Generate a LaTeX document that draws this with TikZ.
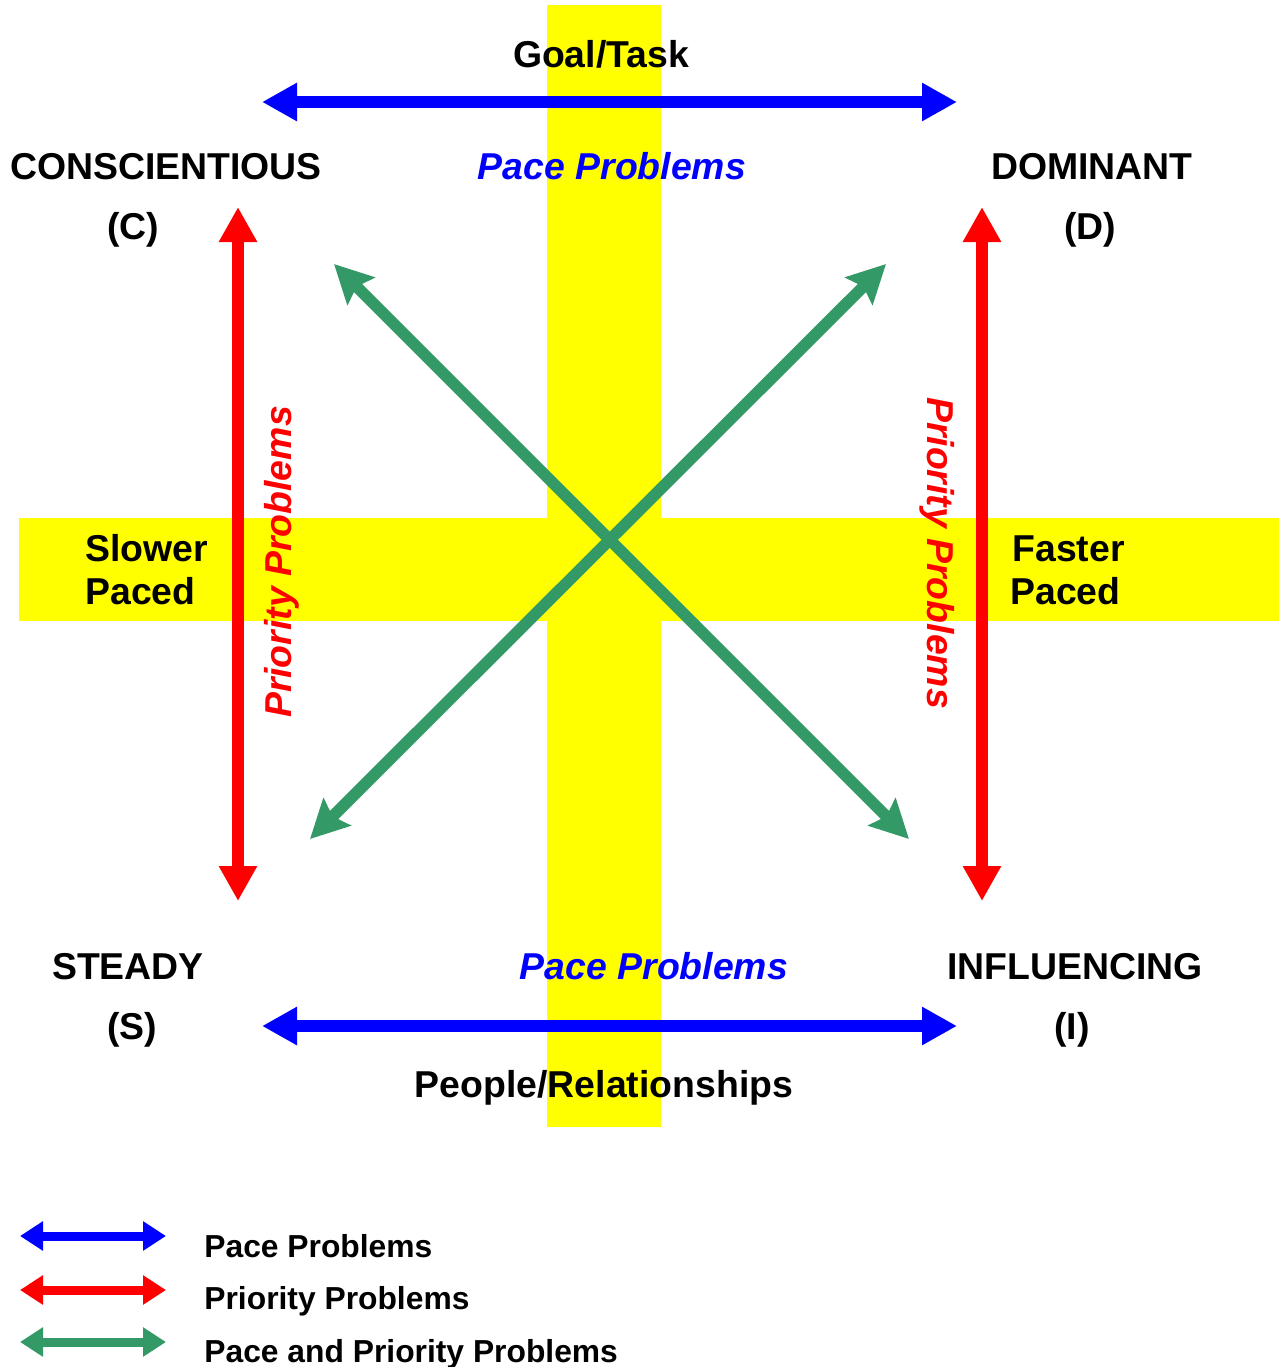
\documentclass[tikz,border=0pt]{standalone}
\usepackage{fontspec}
\setmainfont{Liberation Sans}
\usetikzlibrary{arrows.meta}
\definecolor{pblue}{RGB}{0,0,255}
\definecolor{pred}{RGB}{255,0,0}
\definecolor{pgreen}{RGB}{51,153,102}
\definecolor{pyellow}{RGB}{255,255,0}
\tikzset{
  band/.style={fill=pyellow},
  bigtxt/.style={font=\fontsize{18.7}{22}\selectfont\bfseries, inner sep=0pt, anchor=base},
  itxt/.style={font=\fontsize{18.7}{22}\selectfont\bfseries\itshape, inner sep=0pt, anchor=base},
  legtxt/.style={font=\fontsize{15.9}{18}\selectfont\bfseries, inner sep=0pt, anchor=base west},
  mainarrow/.style={line width=5.8pt, {Triangle[length=17.5pt,width=18pt]}-{Triangle[length=17.5pt,width=18pt]}},
  diagarrow/.style={line width=5.8pt, draw=pgreen, {Stealth[length=19pt,width=19pt,inset=3pt]}-{Stealth[length=19pt,width=19pt,inset=3pt]}},
  legarrow/.style={line width=4.5pt, {Triangle[length=11.5pt,width=14pt]}-{Triangle[length=11.5pt,width=14pt]}}
}
\begin{document}
\begin{tikzpicture}[x=0.5pt,y=-0.5pt]
\useasboundingbox (0,0) rectangle (1280,1367);
% yellow bands
\fill[band] (547,5) rectangle (661,1127);
\fill[band] (19,518) rectangle (1279,621);

% coordinates
\coordinate (tl) at (262,102);
\coordinate (tr) at (957,102);
\coordinate (bl) at (262,1026);
\coordinate (br) at (957,1026);
\coordinate (lt) at (238,207);
\coordinate (lb) at (238,901);
\coordinate (rt) at (982,207);
\coordinate (rb) at (982,901);
\coordinate (g1a) at (334,264);
\coordinate (g1b) at (909,839);
\coordinate (g2a) at (886,264);
\coordinate (g2b) at (310,839);

% main arrows
\draw[mainarrow, draw=pblue, fill=pblue] (tl) -- (tr);
\draw[mainarrow, draw=pblue, fill=pblue] (bl) -- (br);
\draw[mainarrow, draw=pred, fill=pred] (lt) -- (lb);
\draw[mainarrow, draw=pred, fill=pred] (rt) -- (rb);
\draw[diagarrow, fill=pgreen] (g1a) -- (g1b);
\draw[diagarrow, fill=pgreen] (g2a) -- (g2b);

% labels
\node[bigtxt] (goal) at (601,67) {Goal/Task};
\node[itxt, text=pblue] (pacet) at (612,179) {Pace Problems};
\node[itxt, text=pblue] (paceb) at (654,979) {Pace Problems};
\node[bigtxt] (cons) at (166,179) {CONSCIENTIOUS};
\node[bigtxt] (c) at (133,239) {(C)};
\node[bigtxt] (dom) at (1092,179) {DOMINANT};
\node[bigtxt] (d) at (1090,239) {(D)};
\node[bigtxt] (steady) at (128,979) {STEADY};
\node[bigtxt] (s) at (132,1039) {(S)};
\node[bigtxt] (infl) at (1075,979) {INFLUENCING};
\node[bigtxt] (i) at (1072,1039) {(I)};
\node[bigtxt] (people) at (604,1097) {People/Relationships};
\node[bigtxt, anchor=base west] (slower) at (85,561) {Slower};
\node[bigtxt, anchor=base west] (spaced) at (85,604) {Paced};
\node[bigtxt, anchor=base west] (faster) at (1012,561) {Faster};
\node[bigtxt, anchor=base west] (fpaced) at (1010,604) {Paced};
\node[itxt, text=pred, rotate=90] (prl) at (291,562) {Priority Problems};
\node[itxt, text=pred, rotate=-90] (prr) at (927,553) {Priority Problems};

% legend
\coordinate (l1a) at (20,1236);
\coordinate (l1b) at (166,1236);
\coordinate (l2a) at (20,1290);
\coordinate (l2b) at (166,1290);
\coordinate (l3a) at (20,1342);
\coordinate (l3b) at (166,1342);
\draw[legarrow, draw=pblue, fill=pblue] (l1a) -- (l1b);
\draw[legarrow, draw=pred, fill=pred] (l2a) -- (l2b);
\draw[legarrow, draw=pgreen, fill=pgreen] (l3a) -- (l3b);
\node[legtxt] (lg1) at (204,1257) {Pace Problems};
\node[legtxt] (lg2) at (204,1309) {Priority Problems};
\node[legtxt] (lg3) at (204,1362) {Pace and Priority Problems};
\end{tikzpicture}
\end{document}
